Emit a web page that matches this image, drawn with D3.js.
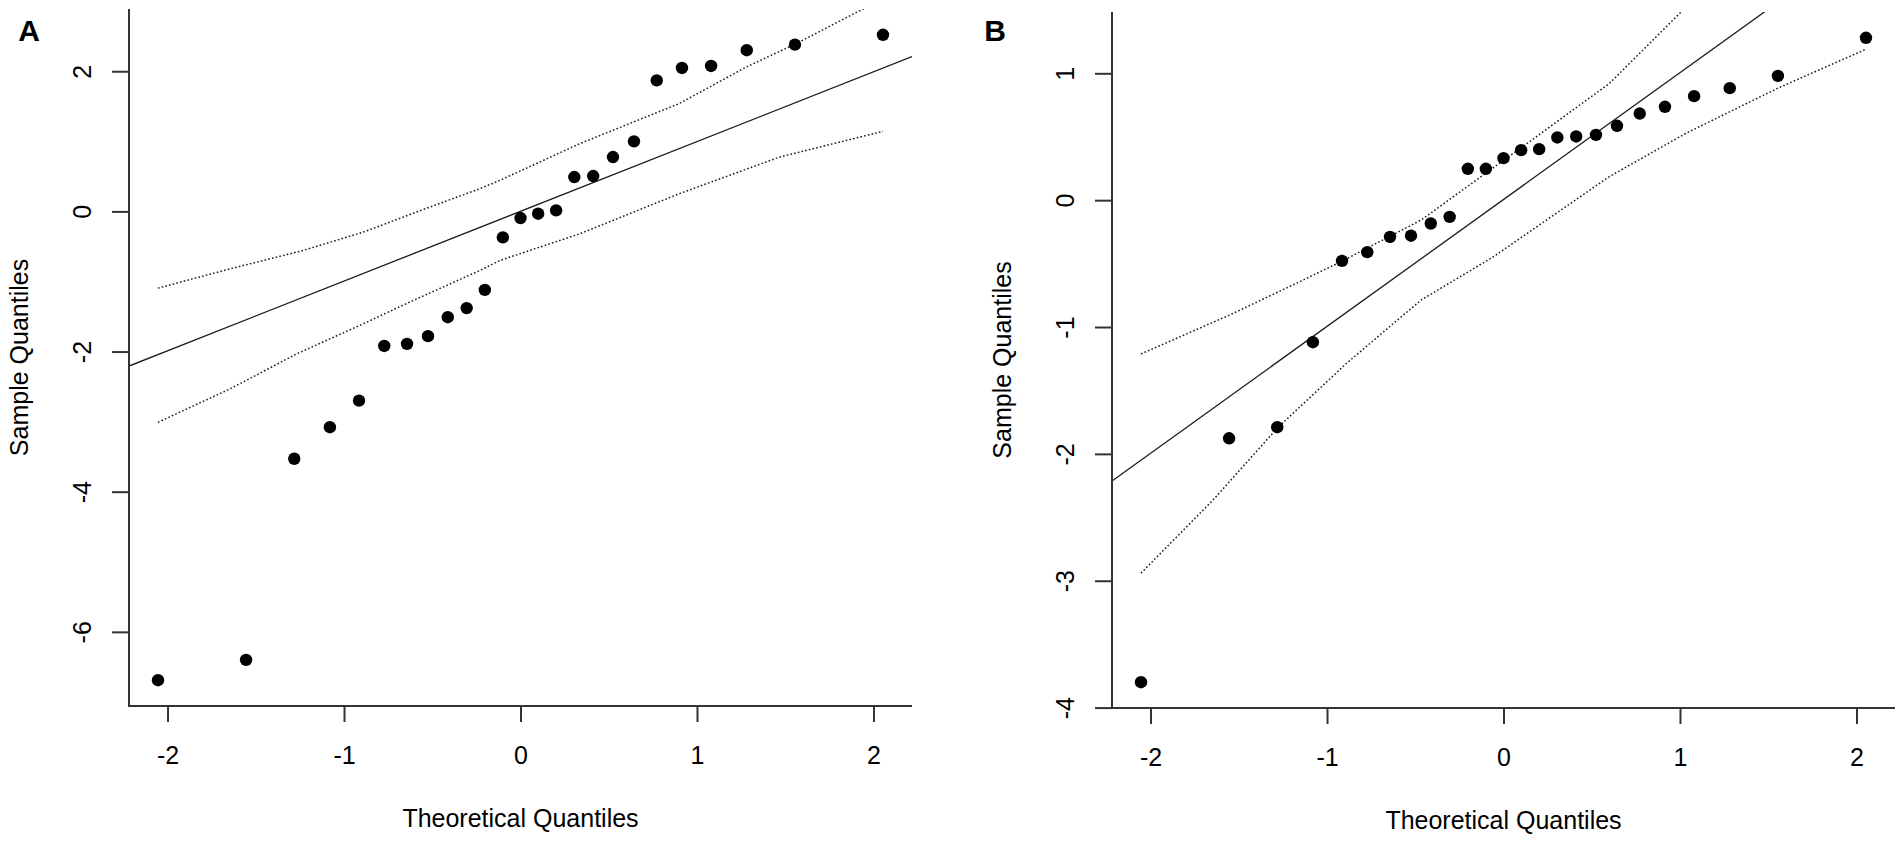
<!DOCTYPE html>
<html>
<head>
<meta charset="utf-8">
<script src="https://cdn.jsdelivr.net/npm/d3@7"></script>
<style>
  body { margin: 0; background: #fff; }
  text { font-family: "Liberation Sans", Arial, sans-serif; fill: #000; }
</style>
</head>
<body>
<div id="chart"></div>
<script>
// Theoretical quantiles (x of every point, same in both panels)
var theoQ = [-2.054, -1.555, -1.282, -1.080, -0.915, -0.772, -0.643, -0.524, -0.412, -0.305,
    -0.202, -0.100, 0, 0.100, 0.202, 0.305, 0.412, 0.524, 0.643, 0.772,
    0.915, 1.080, 1.282, 1.555, 2.054];

// Sample quantiles
var sampleA = [-6.69, -6.40, -3.53, -3.08, -2.70, -1.92, -1.89, -1.78, -1.51, -1.38,
    -1.12, -0.37, -0.095, -0.033, 0.014, 0.49, 0.505, 0.776, 1.00, 1.87,
    2.047, 2.076, 2.30, 2.38, 2.52];
var sampleB = [-3.80, -1.877, -1.79, -1.12, -0.479, -0.41, -0.29, -0.28, -0.184, -0.132,
    0.247, 0.247, 0.331, 0.394, 0.402, 0.494, 0.502, 0.515, 0.586, 0.683,
    0.736, 0.82, 0.883, 0.98, 1.28];

// Reference lines: [intercept, slope]
var refA = [0.001, 0.9955];
var refB = [0.005, 1.0];

// Confidence envelopes (dotted), [theoretical, sample]
var upperA = [[-2.054, -1.095], [-1.646, -0.82], [-1.231, -0.557], [-0.891, -0.296], [-0.514, 0.062],
    [-0.23, 0.324], [-0.117, 0.443], [0.336, 0.967], [0.9, 1.54], [1.279, 2.06], [1.562, 2.395],
    [1.94, 2.886], [2.054, 3.02]];
var lowerA = [[-2.054, -3.01], [-1.646, -2.533], [-1.268, -2.033], [-0.891, -1.604], [-0.608, -1.271],
    [-0.23, -0.843], [-0.117, -0.70], [0.336, -0.319], [0.9, 0.253], [1.468, 0.776], [2.054, 1.143]];
var upperB = [[-2.054, -1.212], [-1.551, -0.905], [-1.173, -0.655], [-0.913, -0.48], [-0.465, -0.155],
    [-0.1, 0.213], [0.162, 0.476], [0.6, 0.92], [1.0, 1.475], [1.282, 1.9], [1.555, 2.24], [2.054, 2.92]];
var lowerB = [[-2.054, -2.94], [-1.646, -2.364], [-1.277, -1.79], [-0.889, -1.286], [-0.6, -0.944],
    [-0.465, -0.786], [-0.056, -0.445], [0.6, 0.186], [1.035, 0.528], [1.555, 0.883], [2.054, 1.19]];

// Tick values
var xTicks = [-2, -1, 0, 1, 2];
var yTicksA = [-6, -4, -2, 0, 2];
var yTicksB = [-4, -3, -2, -1, 0, 1];

var svgWidth = 1902;
var svgHeight = 842;

var svg = d3.select("#chart")
    .append("svg")
    .attr("width", svgWidth)
    .attr("height", svgHeight);

// R style range: data extent plus 4% on each side
function padExtent(values) {
    var ext = d3.extent(values);
    var pad = (ext[1] - ext[0]) * 0.04;
    return [ext[0] - pad, ext[1] + pad];
}

// plain hyphen minus like R
var fmt = d => String(d);

function drawPanel(p) {
    var width = p.right - p.left;
    var height = p.bottom - p.top;

    var g = svg.append("g")
        .attr("transform", `translate(${p.left}, ${p.top})`);

    var xScale = d3.scaleLinear()
        .domain(padExtent(theoQ))
        .range([0, width]);
    var yScale = d3.scaleLinear()
        .domain(padExtent(p.sample))
        .range([height, 0]);

    // clip to plot region
    g.append("clipPath")
        .attr("id", "clip" + p.label)
        .append("rect")
        .attr("width", width)
        .attr("height", height);

    var plot = g.append("g").attr("clip-path", `url(#clip${p.label})`);

    // reference line
    var xd = xScale.domain();
    plot.append("line")
        .attr("x1", xScale(xd[0]))
        .attr("y1", yScale(p.ref[0] + p.ref[1] * xd[0]))
        .attr("x2", xScale(xd[1]))
        .attr("y2", yScale(p.ref[0] + p.ref[1] * xd[1]))
        .attr("stroke", "#1a1a1a")
        .attr("stroke-width", 1.3);

    // envelope
    var line = d3.line()
        .x(d => xScale(d[0]))
        .y(d => yScale(d[1]));
    [p.upper, p.lower].forEach(function(env) {
        plot.append("path")
            .datum(env)
            .attr("d", line)
            .attr("fill", "none")
            .attr("stroke", "#1a1a1a")
            .attr("stroke-width", 1.5)
            .attr("stroke-dasharray", "1.6,2.2");
    });

    // points
    g.append("g").selectAll("circle")
        .data(p.sample)
        .enter()
        .append("circle")
        .attr("cx", (d, i) => xScale(theoQ[i]))
        .attr("cy", d => yScale(d))
        .attr("r", 6.2)
        .attr("fill", "#000");

    // axes
    var bottomAxis = d3.axisBottom(xScale)
        .tickValues(xTicks)
        .tickSize(16)
        .tickSizeOuter(0)
        .tickFormat(fmt);
    var leftAxis = d3.axisLeft(yScale)
        .tickValues(p.yTicks)
        .tickSize(17)
        .tickSizeOuter(0)
        .tickFormat(fmt);

    var xAxis = g.append("g")
        .attr("transform", `translate(0, ${height})`)
        .call(bottomAxis);
    xAxis.selectAll("text")
        .attr("y", 58)
        .attr("dy", 0)
        .style("font-size", "25px");

    var yAxis = g.append("g").call(leftAxis);
    yAxis.selectAll("text")
        .attr("transform", "rotate(-90)")
        .attr("x", 0)
        .attr("y", -38)
        .attr("dy", 0)
        .style("text-anchor", "middle")
        .style("font-size", "25px");

    [xAxis, yAxis].forEach(function(ax) {
        ax.select(".domain").remove();
        ax.selectAll("line").attr("stroke", "#333").attr("stroke-width", 2);
    });

    // L-shaped box
    g.append("path")
        .attr("d", `M0,0V${height}H${width}`)
        .attr("fill", "none")
        .attr("stroke", "#333")
        .attr("stroke-width", 2);

    // axis titles
    g.append("text")
        .attr("x", width / 2)
        .attr("y", height + 121)
        .attr("text-anchor", "middle")
        .style("font-size", "25px")
        .text("Theoretical Quantiles");

    g.append("text")
        .attr("transform", "rotate(-90)")
        .attr("x", -height / 2)
        .attr("y", -101.5)
        .attr("text-anchor", "middle")
        .style("font-size", "25px")
        .text("Sample Quantiles");

    // panel letter
    svg.append("text")
        .attr("x", p.labelX)
        .attr("y", 41)
        .attr("text-anchor", "middle")
        .style("font-size", "30px")
        .style("font-weight", "bold")
        .text(p.label);
}

drawPanel({
    label: "A", labelX: 29,
    left: 129, right: 912, top: 9, bottom: 706,
    sample: sampleA, ref: refA, upper: upperA, lower: lowerA, yTicks: yTicksA
});

drawPanel({
    label: "B", labelX: 995,
    left: 1112, right: 1895, top: 12, bottom: 708,
    sample: sampleB, ref: refB, upper: upperB, lower: lowerB, yTicks: yTicksB
});
</script>
</body>
</html>
